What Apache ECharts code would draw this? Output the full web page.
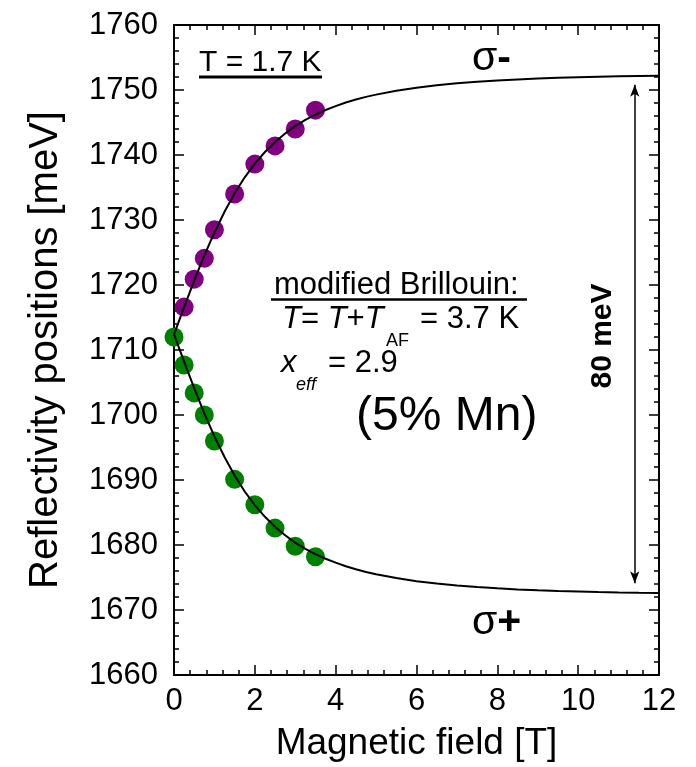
<!DOCTYPE html>
<html><head><meta charset="utf-8">
<script src="https://cdn.jsdelivr.net/npm/echarts/dist/echarts.min.js"></script>
<style>html,body{margin:0;padding:0;background:#fff}#c{width:696px;height:767px}</style>
</head><body><div id="c"></div>
<script>
// Data
const fieldSigmaMinus = [0.25, 0.5, 0.75, 1, 1.5, 2, 2.5, 3, 3.5];
const energySigmaMinus = [1716.6, 1720.9, 1724.1, 1728.5, 1734.0, 1738.6, 1741.4, 1744.0, 1746.9];
const fieldSigmaPlus = [0, 0.25, 0.5, 0.75, 1, 1.5, 2, 2.5, 3, 3.5];
const energySigmaPlus = [1712.0, 1707.7, 1703.4, 1700.0, 1696.0, 1690.1, 1686.2, 1682.6, 1679.8, 1678.2];
// fitted (modified Brillouin) curves
const fitField = [0, 0.25, 0.5, 0.75, 1, 1.25, 1.5, 1.75, 2, 2.25, 2.5, 2.75, 3, 3.25, 3.5, 3.75, 4, 4.25, 4.5, 4.75, 5, 5.5, 6, 6.5, 7, 7.5, 8, 8.5, 9, 9.5, 10, 10.5, 11, 11.5, 12];
const fitUpper = [1712.4, 1716.6, 1720.66, 1724.55, 1728.08, 1731.27, 1734.11, 1736.57, 1738.67, 1740.46, 1742.0, 1743.31, 1744.44, 1745.39, 1746.21, 1746.92, 1747.52, 1748.07, 1748.53, 1748.94, 1749.29, 1749.89, 1750.36, 1750.73, 1751.04, 1751.28, 1751.47, 1751.63, 1751.77, 1751.88, 1751.96, 1752.04, 1752.1, 1752.15, 1752.19];
const fitLower = [1712.4, 1708.2, 1704.14, 1700.25, 1696.72, 1693.53, 1690.69, 1688.23, 1686.13, 1684.34, 1682.8, 1681.49, 1680.36, 1679.41, 1678.59, 1677.88, 1677.28, 1676.73, 1676.27, 1675.86, 1675.51, 1674.91, 1674.44, 1674.07, 1673.76, 1673.52, 1673.33, 1673.17, 1673.03, 1672.92, 1672.84, 1672.76, 1672.7, 1672.65, 1672.61];
const arrowField = 11.4;
const arrowTop = 1750.8;
const arrowBottom = 1674.1;
const xTicks = {min: 0, max: 12, interval: 2};
const yTicks = {min: 1660, max: 1760, interval: 10};

const FONT = "'Liberation Sans', Arial, sans-serif";
const PURPLE = '#800080';
const GREEN = '#008000';

const zip = (a, b) => a.map((v, i) => [v, b[i]]);

const chart = echarts.init(document.getElementById('c'), null, {renderer: 'canvas'});

const axisCommon = {
  axisLine: {show: true, onZero: false, lineStyle: {color: '#000', width: 2}},
  axisTick: {show: true, inside: true, length: 10, lineStyle: {color: '#000', width: 1.5}},
  minorTick: {show: true, splitNumber: 5, length: 5, lineStyle: {color: '#000', width: 1.5}},
  splitLine: {show: false}
};
const plain = v => String(v);

const option = {
  animation: false,
  textStyle: {fontFamily: FONT},
  grid: {left: 174, right: 37, top: 25, bottom: 90, containLabel: false},
  xAxis: [
    Object.assign({
      type: 'value', position: 'bottom', min: xTicks.min, max: xTicks.max, interval: xTicks.interval,
      name: 'Magnetic field [T]', nameLocation: 'middle', nameGap: 50,
      nameTextStyle: {fontSize: 37, color: '#000', fontFamily: FONT},
      axisLabel: {fontSize: 31, color: '#000', margin: 11, fontFamily: FONT, formatter: plain}
    }, axisCommon),
    Object.assign({
      type: 'value', position: 'top', min: xTicks.min, max: xTicks.max, interval: xTicks.interval,
      axisLabel: {show: false}
    }, axisCommon)
  ],
  yAxis: [
    Object.assign({
      type: 'value', position: 'left', min: yTicks.min, max: yTicks.max, interval: yTicks.interval,
      name: 'Reflectivity positions [meV]', nameLocation: 'middle', nameGap: 108,
      nameTextStyle: {fontSize: 40, color: '#000', fontFamily: FONT},
      axisLabel: {fontSize: 31, color: '#000', margin: 16, fontFamily: FONT, formatter: plain}
    }, axisCommon),
    Object.assign({
      type: 'value', position: 'right', min: yTicks.min, max: yTicks.max, interval: yTicks.interval,
      axisLabel: {show: false}
    }, axisCommon)
  ],
  series: [
    {
      type: 'scatter', name: 'sigma-', data: zip(fieldSigmaMinus, energySigmaMinus),
      symbol: 'circle', symbolSize: 19, itemStyle: {color: PURPLE, opacity: 1}, z: 2
    },
    {
      type: 'scatter', name: 'sigma+', data: zip(fieldSigmaPlus, energySigmaPlus),
      symbol: 'circle', symbolSize: 19, itemStyle: {color: GREEN, opacity: 1}, z: 2
    },
    {
      type: 'line', name: 'fit upper', data: zip(fitField, fitUpper), smooth: false,
      showSymbol: false, symbol: 'none', lineStyle: {color: '#000', width: 2}, z: 3,
      markLine: {
        silent: true, symbol: ['arrow', 'arrow'], symbolSize: [7, 12],
        lineStyle: {color: '#000', width: 1.5, type: 'solid'},
        label: {show: false},
        data: [[{coord: [arrowField, arrowTop]}, {coord: [arrowField, arrowBottom]}]]
      }
    },
    {
      type: 'line', name: 'fit lower', data: zip(fitField, fitLower), smooth: false,
      showSymbol: false, symbol: 'none', lineStyle: {color: '#000', width: 2}, z: 3
    }
  ],
  graphic: [
    {type: 'text', x: 199, y: 63, style: {text: 'T = 1.7 K', font: "30px " + FONT, fill: '#000', textAlign: 'left', textVerticalAlign: 'middle'}},
    {type: 'line', shape: {x1: 199, y1: 77, x2: 322, y2: 77}, style: {stroke: '#000', lineWidth: 3}},
    {type: 'text', x: 472, y: 59, style: {
      text: '{s|σ}{m|-}', textAlign: 'left', textVerticalAlign: 'middle',
      rich: {s: {fontSize: 41, fontFamily: FONT, color: PURPLE}, m: {fontSize: 41, fontWeight: 'bold', fontFamily: FONT, color: PURPLE}}
    }},
    {type: 'text', x: 472, y: 623, style: {
      text: '{s|σ}{m|+}', textAlign: 'left', textVerticalAlign: 'middle',
      rich: {s: {fontSize: 41, fontFamily: FONT, color: GREEN}, m: {fontSize: 41, fontWeight: 'bold', fontFamily: FONT, color: GREEN}}
    }},
    {type: 'text', x: 274, y: 285, style: {text: 'modified Brillouin:', font: "31px " + FONT, fill: '#000', textAlign: 'left', textVerticalAlign: 'middle'}},
    {type: 'line', shape: {x1: 271, y1: 299.5, x2: 527, y2: 299.5}, style: {stroke: '#000', lineWidth: 2.5}},
    {type: 'text', x: 282, y: 319, style: {
      text: '{i|T}{n|= }{i|T}{n|+}{i|T}', textAlign: 'left', textVerticalAlign: 'middle',
      rich: {i: {fontSize: 31, fontStyle: 'italic', fontFamily: FONT, color: '#000'}, n: {fontSize: 31, fontFamily: FONT, color: '#000'}}
    }},
    {type: 'text', x: 386, y: 341, style: {text: 'AF', font: "18px " + FONT, fill: '#000', textAlign: 'left', textVerticalAlign: 'middle'}},
    {type: 'text', x: 420, y: 319, style: {text: '= 3.7 K', font: "31px " + FONT, fill: '#000', textAlign: 'left', textVerticalAlign: 'middle'}},
    {type: 'text', x: 281, y: 363, style: {text: 'x', font: "italic 31px " + FONT, fill: '#000', textAlign: 'left', textVerticalAlign: 'middle'}},
    {type: 'text', x: 296, y: 385, style: {text: 'eff', font: "italic 18px " + FONT, fill: '#000', textAlign: 'left', textVerticalAlign: 'middle'}},
    {type: 'text', x: 328, y: 363, style: {text: '= 2.9', font: "31px " + FONT, fill: '#000', textAlign: 'left', textVerticalAlign: 'middle'}},
    {type: 'text', x: 356, y: 417, style: {text: '(5% Mn)', font: "48px " + FONT, fill: '#000', textAlign: 'left', textVerticalAlign: 'middle'}},
    {type: 'text', x: 603, y: 336, rotation: Math.PI / 2, style: {text: '80 meV', font: "bold 30px " + FONT, fill: '#000', textAlign: 'center', textVerticalAlign: 'middle'}}
  ]
};
chart.setOption(option);
</script>
</body></html>
